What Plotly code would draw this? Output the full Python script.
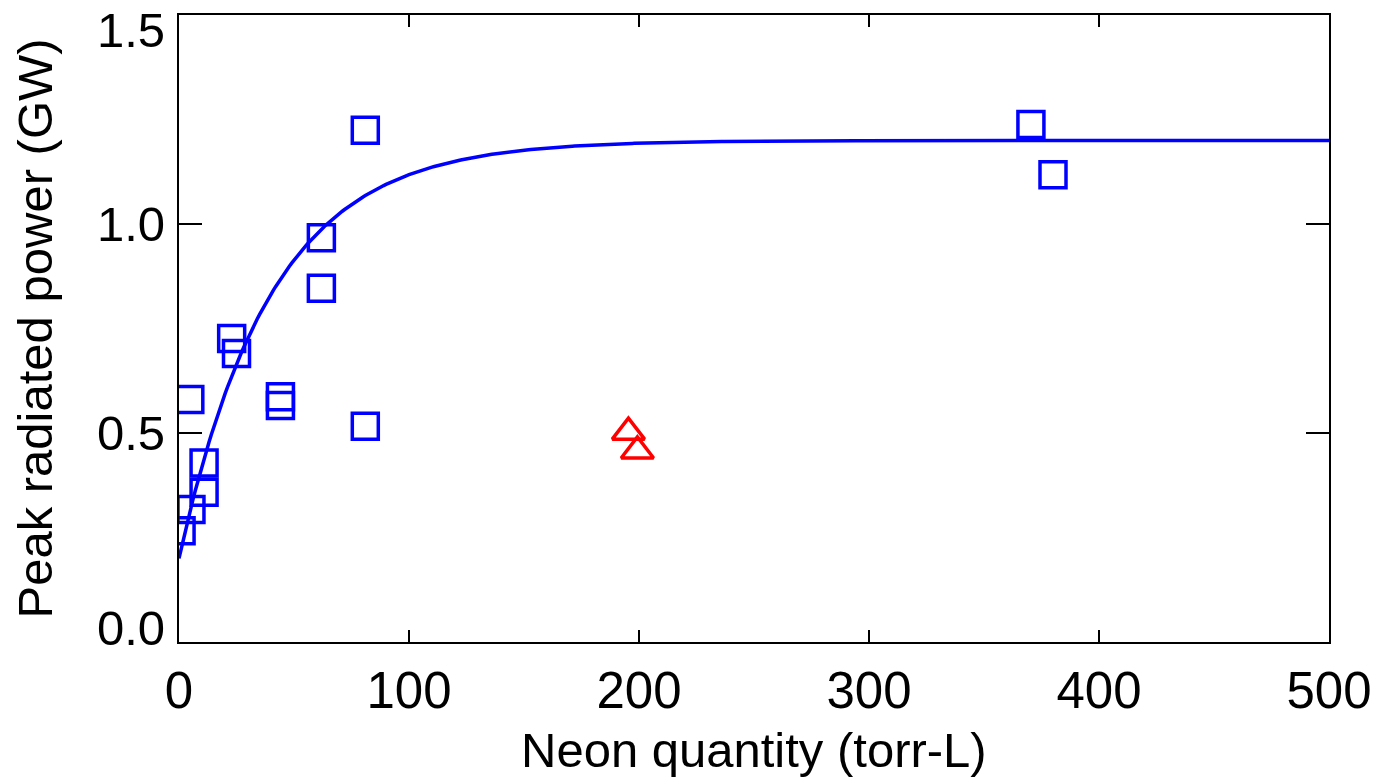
import numpy as np
import plotly.graph_objects as go

# Measured shots: neon quantity (torr-L) vs peak radiated power (GW)
neon_sq = [81.0, 370.4, 380.0, 61.9, 61.9, 22.9, 25.0, 4.7, 44.1, 44.1,
           81.0, 10.9, 10.9, 5.2, 0.9]
power_sq = [1.224, 1.238, 1.118, 0.967, 0.846, 0.726, 0.690, 0.580, 0.587,
            0.566, 0.516, 0.428, 0.358, 0.317, 0.266]

neon_tri = [195.4, 199.3]
power_tri = [0.502, 0.457]

# Saturating exponential fit: P = P_sat - dP * exp(-N / N0)
P_SAT = 1.20
DELTA_P = 1.00
N0 = 40.0
fit_x = np.linspace(0, 500, 501)
fit_y = P_SAT - DELTA_P * np.exp(-fit_x / N0)

x_ticks = [0, 100, 200, 300, 400, 500]
y_ticks = [0.0, 0.5, 1.0, 1.5]
y_tick_labels = [f"{v:.1f}" for v in y_ticks]

BLUE = "#0000ff"
RED = "#ff0000"
FONT = "Liberation Sans, Arial, Helvetica, sans-serif"
XTICK_SIZE = 51
YTICK_SIZE = 49
TITLE_SIZE = 49

fig = go.Figure()
fig.add_trace(go.Scatter(
    x=fit_x, y=fit_y, mode="lines",
    line=dict(color=BLUE, width=3.5), hoverinfo="skip", showlegend=False,
))
fig.add_trace(go.Scatter(
    x=neon_sq, y=power_sq, mode="markers",
    marker=dict(symbol="square-open", size=26, color=BLUE,
                line=dict(color=BLUE, width=3.5)),
    showlegend=False,
))
fig.add_trace(go.Scatter(
    x=neon_tri, y=power_tri, mode="markers",
    marker=dict(symbol="triangle-up-open", size=28, color=RED,
                line=dict(color=RED, width=3.5)),
    showlegend=False,
))

fig.update_layout(
    width=1376, height=779,
    margin=dict(l=179, r=47, t=15, b=137),
    paper_bgcolor="white", plot_bgcolor="white",
    font=dict(family=FONT, size=YTICK_SIZE, color="black"),
    showlegend=False,
)
fig.update_xaxes(
    range=[0, 500], tickvals=x_ticks, ticktext=[str(v) for v in x_ticks],
    automargin=False,
    showgrid=False, zeroline=False,
    showline=True, linecolor="black", linewidth=2, mirror="ticks",
    ticks="inside", ticklen=12, tickwidth=2, tickcolor="black",
    ticklabelstandoff=3,
    tickfont=dict(size=XTICK_SIZE),
)
fig.update_yaxes(
    range=[0, 1.5], tickvals=y_ticks, showticklabels=False,
    automargin=False,
    showgrid=False, zeroline=False,
    showline=True, linecolor="black", linewidth=2, mirror="ticks",
    ticks="inside", ticklen=23, tickwidth=2, tickcolor="black",
)

# y tick labels: end labels pulled inward so they stay beside the frame
label_shift = {0.0: 14, 1.5: -15}
for v, txt in zip(y_ticks, y_tick_labels):
    fig.add_annotation(
        xref="paper", x=0, yref="y", y=v, text=txt, showarrow=False,
        xanchor="right", yanchor="middle", xshift=-12,
        yshift=label_shift.get(v, 0),
        font=dict(size=YTICK_SIZE, family=FONT, color="black"),
    )

# axis titles
fig.add_annotation(
    xref="paper", x=0.5, yref="paper", y=0, text="Neon quantity (torr-L)",
    showarrow=False, xanchor="center", yanchor="middle", yshift=-108,
    font=dict(size=TITLE_SIZE, family=FONT, color="black"),
)
fig.add_annotation(
    xref="paper", x=0, yref="paper", y=0.5, text="Peak radiated power (GW)",
    showarrow=False, xanchor="center", yanchor="middle", xshift=-145,
    textangle=-90,
    font=dict(size=TITLE_SIZE, family=FONT, color="black"),
)

fig.write_html("out.html")
